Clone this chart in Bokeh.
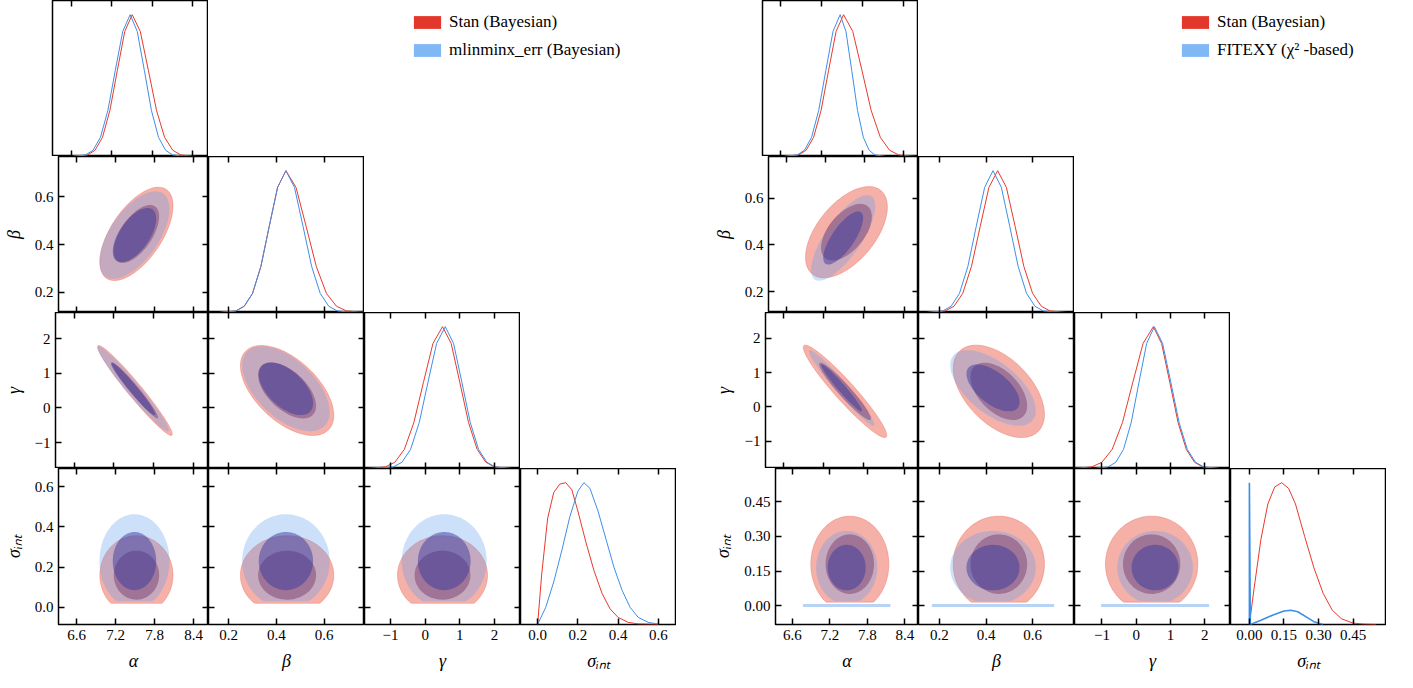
import numpy as np
from bokeh.plotting import figure
from bokeh.layouts import row, column
from bokeh.models import Range1d, FixedTicker, LinearAxis, Legend, LegendItem, Spacer
from bokeh.embed import file_html
from bokeh.resources import INLINE

FONT = "'Liberation Serif', 'Times New Roman', serif"
RED_LINE = "#e8392b"; BLUE_LINE = "#3d8ee8"

var_labels = ["α", "β", "γ", "σᵢₙₜ"]

# ---------------- left corner (Stan vs mlinminx_err) ----------------
L_ranges = [(6.32, 8.63), (0.115, 0.77), (-1.75, 2.75), (-0.085, 0.69)]
L_ticks = [[6.6, 7.2, 7.8, 8.4], [0.2, 0.4, 0.6], [-1, 0, 1, 2], [0.0, 0.2, 0.4, 0.6]]
L_fmt = ["%.1f", "%.1f", "%d", "%.1f"]

stanL_mean = [7.52, 0.445, 0.50, 0.16]
stanL_sd = [0.23, 0.08, 0.53, 0.08]
stanL_corr = [0.6, -0.97, -0.55, 0.0, 0.0, 0.0]   # pairs (1,0),(2,0),(2,1),(3,0),(3,1),(3,2)
stanL_floor = 0.02
mlin_mean = [7.49, 0.44, 0.55, 0.23]
mlin_sd = [0.22, 0.075, 0.5, 0.095]
mlin_corr = [0.6, -0.97, -0.55, 0.0, 0.0, 0.0]
mlin_floor = 0.03

shape_y = [0, 0.011, 0.044, 0.135, 0.325, 0.607, 0.882, 1, 0.882, 0.607, 0.325, 0.135, 0.044, 0.011, 0]
L_diag_red_x = [
    [6.62, 6.84, 6.95, 7.06, 7.17, 7.28, 7.39, 7.50, 7.62, 7.74, 7.86, 7.98, 8.10, 8.22, 8.46],
    [0.16, 0.23, 0.265, 0.30, 0.335, 0.37, 0.405, 0.44, 0.4825, 0.525, 0.5675, 0.61, 0.6525, 0.695, 0.78],
    [-1.70, -1.15, -0.875, -0.60, -0.325, -0.05, 0.225, 0.50, 0.75, 1.0, 1.25, 1.5, 1.75, 2.0, 2.5],
]
L_diag_blue_x = [
    [6.59, 6.81, 6.92, 7.03, 7.14, 7.25, 7.36, 7.47, 7.575, 7.68, 7.785, 7.89, 7.995, 8.10, 8.31],
    [0.16, 0.23, 0.265, 0.30, 0.335, 0.37, 0.405, 0.44, 0.476, 0.512, 0.548, 0.584, 0.62, 0.656, 0.728],
    [-1.42, -0.92, -0.67, -0.42, -0.17, 0.08, 0.33, 0.58, 0.82, 1.06, 1.30, 1.54, 1.78, 2.02, 2.50],
]
L_sig_red_x = [0.0, 0.02, 0.05, 0.08, 0.11, 0.14, 0.17, 0.20, 0.24, 0.28, 0.32, 0.36, 0.40, 0.45, 0.5, 0.6]
L_sig_red_y = [0, 0.35, 0.75, 0.93, 0.99, 1.0, 0.95, 0.8, 0.58, 0.38, 0.22, 0.11, 0.05, 0.015, 0.004, 0]
L_sig_blue_x = [0.0, 0.04, 0.08, 0.12, 0.16, 0.20, 0.23, 0.26, 0.30, 0.34, 0.38, 0.42, 0.46, 0.50, 0.55, 0.6]
L_sig_blue_y = [0, 0.12, 0.3, 0.52, 0.76, 0.94, 1.0, 0.96, 0.8, 0.6, 0.4, 0.24, 0.12, 0.05, 0.015, 0.003]

# ---------------- right corner (Stan vs FITEXY) ----------------
R_ranges = [(6.33, 8.62), (0.11, 0.78), (-1.8, 2.75), (-0.082, 0.595)]
R_ticks = [[6.6, 7.2, 7.8, 8.4], [0.2, 0.4, 0.6], [-1, 0, 1, 2], [0.0, 0.15, 0.30, 0.45]]
R_fmt = ["%.1f", "%.1f", "%d", "%.2f"]

stanR_mean = [7.52, 0.455, 0.45, 0.18]
stanR_sd = [0.255, 0.08, 0.55, 0.085]
stanR_corr = [0.55, -0.95, -0.5, 0.0, 0.0, 0.0]
stanR_floor = 0.015
fit_mean = [7.47, 0.43, 0.55, 0.165]
fit_sd = [0.2, 0.075, 0.45, 0.065]
fit_corr = [0.75, -0.97, -0.6, 0.0, 0.0, 0.0]
fit_floor = 0.02
fit_band_sigma = 0.0

R_diag_red_x = [
    [6.64, 6.86, 6.97, 7.08, 7.19, 7.30, 7.41, 7.52, 7.655, 7.79, 7.925, 8.06, 8.195, 8.33, 8.60],
    [0.15, 0.225, 0.2625, 0.30, 0.3375, 0.375, 0.4125, 0.45, 0.4875, 0.525, 0.5625, 0.60, 0.6375, 0.675, 0.75],
    [-1.9, -1.3, -1.0, -0.7, -0.4, -0.1, 0.2, 0.5, 0.74, 0.98, 1.22, 1.46, 1.70, 1.94, 2.42],
]
R_diag_blue_x = [
    [6.63, 6.84, 6.945, 7.05, 7.155, 7.26, 7.365, 7.47, 7.555, 7.64, 7.725, 7.81, 7.895, 7.98, 8.15],
    [0.142, 0.214, 0.25, 0.286, 0.322, 0.358, 0.394, 0.43, 0.466, 0.502, 0.538, 0.574, 0.61, 0.646, 0.718],
    [-1.27, -0.82, -0.595, -0.37, -0.145, 0.08, 0.305, 0.53, 0.77, 1.01, 1.25, 1.49, 1.73, 1.97, 2.45],
]
R_sig_red_x = [0.0, 0.02, 0.05, 0.08, 0.11, 0.14, 0.17, 0.20, 0.24, 0.28, 0.32, 0.36, 0.40, 0.45, 0.5, 0.55]
R_sig_red_y = [0, 0.25, 0.6, 0.85, 0.97, 1.0, 0.96, 0.85, 0.62, 0.4, 0.22, 0.1, 0.04, 0.01, 0.002, 0]
R_sig_blue_x = [0.0, 0.0, 0.004, 0.05, 0.10, 0.15, 0.18, 0.21, 0.25, 0.28, 0.32]
R_sig_blue_y = [0, 1.0, 0, 0.03, 0.065, 0.095, 0.1, 0.09, 0.05, 0.02, 0]

LEVELS = [2.45, 1.52]
PAIR_IDX = {(1, 0): 0, (2, 0): 1, (2, 1): 2, (3, 0): 3, (3, 1): 4, (3, 2): 5}

FRAME = 156
LEFTB = 52
BOTB = 50


def ellipse(mean, sd, corr, i, j, r, floor):
    rho = corr[PAIR_IDX[(i, j)]]
    t = np.linspace(0, 2 * np.pi, 120)
    u, v = np.cos(t), np.sin(t)
    x = mean[j] + r * sd[j] * u
    y = mean[i] + r * sd[i] * (rho * u + np.sqrt(1 - rho ** 2) * v)
    if i == 3:
        y = np.maximum(y, floor)
    return x, y


def hidden_axis(ax, ticks):
    ax.major_label_overrides = {t: "" for t in ticks}
    ax.major_label_text_font_size = "1px"
    ax.major_label_standoff = 0
    ax.major_tick_out = 0
    ax.major_tick_in = 6
    ax.minor_tick_in = 0
    ax.minor_tick_out = 0
    ax.axis_line_color = None
    ax.major_tick_line_width = 1.5
    ax.axis_label = None


def label_axis(ax, label, fmt_ticks):
    ax.major_label_text_font = FONT
    ax.major_label_text_font_size = "15px"
    ax.major_label_text_color = "black"
    ax.major_tick_out = 0
    ax.major_tick_in = 6
    ax.minor_tick_in = 0
    ax.minor_tick_out = 0
    ax.major_tick_line_width = 1.5
    ax.axis_line_color = None
    ax.axis_label = label
    ax.axis_label_text_font = FONT
    ax.axis_label_text_font_style = "italic"
    ax.axis_label_text_font_size = "18px"
    ax.axis_label_text_color = "black"
    ax.axis_label_standoff = 8
    ax.major_label_standoff = 5
    ax.major_label_overrides = fmt_ticks


def fmt_dict(ticks, fmt):
    return {t: (fmt % t).replace("-", "−") for t in ticks}


def make_panel(i, j, n, ranges, ticks, fmts, is_diag):
    left = (j == 0)
    bottom = (i == n - 1)
    w = FRAME + (LEFTB if left else 0)
    h = FRAME + (BOTB if bottom else 0)
    yr = Range1d(0, 1.1) if is_diag else Range1d(*ranges[i])
    p = figure(width=w, height=h, x_range=Range1d(*ranges[j]), y_range=yr,
               toolbar_location=None, output_backend="svg",
               x_axis_location=None, y_axis_location=None,
               min_border=0, min_border_left=LEFTB if left else 0,
               min_border_bottom=BOTB if bottom else 0,
               min_border_top=0, min_border_right=0)
    p.grid.visible = False
    p.outline_line_color = "black"
    p.outline_line_width = 1.5
    xt = FixedTicker(ticks=ticks[j])
    bx = LinearAxis(ticker=xt)
    if bottom:
        label_axis(bx, var_labels[j], fmt_dict(ticks[j], fmts[j]))
    else:
        hidden_axis(bx, ticks[j])
    p.add_layout(bx, "below")
    tx = LinearAxis(ticker=xt)
    hidden_axis(tx, ticks[j])
    p.add_layout(tx, "above")
    if not is_diag:
        yt = FixedTicker(ticks=ticks[i])
        ly = LinearAxis(ticker=yt)
        if left:
            label_axis(ly, var_labels[i], fmt_dict(ticks[i], fmts[i]))
        else:
            hidden_axis(ly, ticks[i])
        p.add_layout(ly, "left")
        ry = LinearAxis(ticker=yt)
        hidden_axis(ry, ticks[i])
        p.add_layout(ry, "right")
    return p


def draw_contours(p, i, j, red, blue):
    rm, rs, rc, rf = red
    bm, bs, bc, bf = blue
    x, y = ellipse(rm, rs, rc, i, j, LEVELS[0], rf)
    p.patch(x, y, fill_color="#e8503f", fill_alpha=0.45, line_color="#e8503f", line_alpha=0.3)
    x, y = ellipse(rm, rs, rc, i, j, LEVELS[1], rf)
    p.patch(x, y, fill_color="#8a1030", fill_alpha=0.5, line_color=None)
    x, y = ellipse(bm, bs, bc, i, j, LEVELS[0], bf)
    p.patch(x, y, fill_color="#5fa0ee", fill_alpha=0.32, line_color=None)
    x, y = ellipse(bm, bs, bc, i, j, LEVELS[1], bf)
    p.patch(x, y, fill_color="#3a3aa0", fill_alpha=0.5, line_color=None)


def build(ranges, ticks, fmts, red, blue, diag_red_x, diag_blue_x, sig_red, sig_blue,
          leg_labels, leg_x, band=None, spike=False):
    n = 4
    rows = []
    for i in range(n):
        figs = []
        for j in range(i + 1):
            p = make_panel(i, j, n, ranges, ticks, fmts, i == j)
            if i == j:
                if i < 3:
                    p.line(diag_red_x[i], shape_y, line_color=RED_LINE, line_width=1)
                    p.line(diag_blue_x[i], shape_y, line_color=BLUE_LINE, line_width=1)
                else:
                    p.line(sig_red[0], sig_red[1], line_color=RED_LINE, line_width=1)
                    p.line(sig_blue[0], sig_blue[1], line_color=BLUE_LINE,
                           line_width=1.6 if spike else 1)
            else:
                draw_contours(p, i, j, red, blue)
                if band is not None and i == 3:
                    bm, bs = blue[0], blue[1]
                    p.segment(x0=[bm[j] - 3.5 * bs[j]], y0=[band], x1=[bm[j] + 3.5 * bs[j]], y1=[band],
                              line_color="#5fa0ee", line_alpha=0.45, line_width=3)
            figs.append(p)
        if i == 0:
            lf = figure(width=3 * FRAME, height=FRAME, toolbar_location=None, output_backend="svg",
                        x_range=Range1d(0, 1), y_range=Range1d(0, 1), min_border=0,
                        x_axis_location=None, y_axis_location=None)
            lf.outline_line_color = None
            lf.grid.visible = False
            r1 = lf.quad(left=[5], right=[6], top=[6], bottom=[5], fill_color="#e2372a", line_color=None)
            r2 = lf.quad(left=[5], right=[6], top=[6], bottom=[5], fill_color="#80b8f5", line_color=None)
            leg = Legend(items=[LegendItem(label=leg_labels[0], renderers=[r1]),
                                LegendItem(label=leg_labels[1], renderers=[r2])],
                         location=(leg_x, FRAME - 60), border_line_color=None,
                         background_fill_alpha=0, label_text_font=FONT,
                         label_text_font_size="17px", label_text_color="black",
                         glyph_width=34, glyph_height=16,
                         spacing=8, padding=4, margin=0)
            lf.add_layout(leg, "center")
            figs.append(lf)
        rows.append(row(*figs, spacing=0))
    return column(*rows, spacing=0)


left = build(L_ranges, L_ticks, L_fmt,
             (stanL_mean, stanL_sd, stanL_corr, stanL_floor),
             (mlin_mean, mlin_sd, mlin_corr, mlin_floor),
             L_diag_red_x, L_diag_blue_x, (L_sig_red_x, L_sig_red_y), (L_sig_blue_x, L_sig_blue_y),
             ["Stan (Bayesian)", "mlinminx_err (Bayesian)"], 202)
right = build(R_ranges, R_ticks, R_fmt,
              (stanR_mean, stanR_sd, stanR_corr, stanR_floor),
              (fit_mean, fit_sd, fit_corr, fit_floor),
              R_diag_red_x, R_diag_blue_x, (R_sig_red_x, R_sig_red_y), (R_sig_blue_x, R_sig_blue_y),
              ["Stan (Bayesian)", "FITEXY (χ² -based)"], 260, band=fit_band_sigma, spike=True)

page = row(left, Spacer(width=34), right, spacing=0)
open("out.html", "w").write(file_html(page, INLINE))
